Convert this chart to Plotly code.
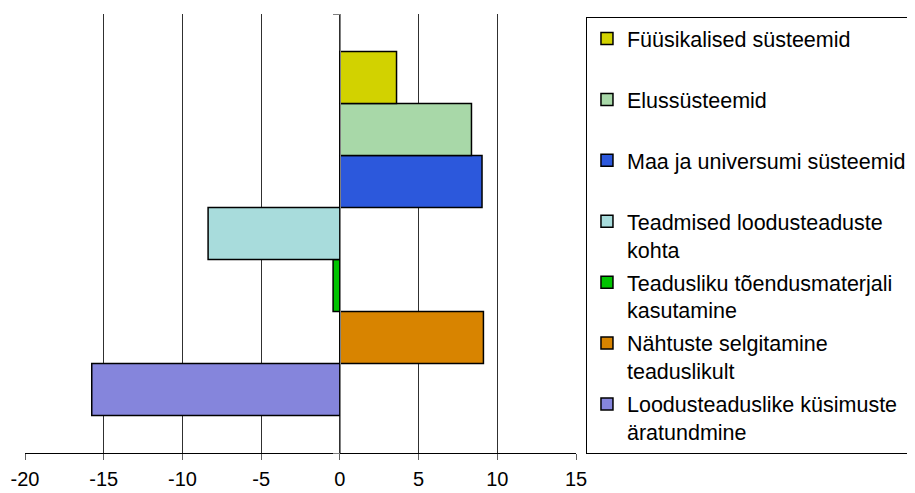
import plotly.graph_objects as go

# Series (legend order top -> bottom)
series_names = [
    "Füüsikalised süsteemid",
    "Elussüsteemid",
    "Maa ja universumi süsteemid",
    "Teadmised loodusteaduste<br>kohta",
    "Teadusliku tõendusmaterjali<br>kasutamine",
    "Nähtuste selgitamine<br>teaduslikult",
    "Loodusteaduslike küsimuste<br>äratundmine",
]
series_values = [3.6, 8.36, 9.03, -8.37, -0.43, 9.12, -15.76]
series_colors = ["#D2D200", "#A8D8A8", "#2C58DC", "#A8DCDC", "#00C400", "#D88400", "#8585DC"]
category = [""]
x_ticks = [-20, -15, -10, -5, 0, 5, 10, 15]

fig = go.Figure()
# plotly stacks horizontal grouped bars bottom-up, so add in reverse order
for i, (name, val, col) in reversed(list(enumerate(zip(series_names, series_values, series_colors)))):
    label = name if "<br>" in name else name + "<br>&nbsp;"
    fig.add_trace(go.Bar(
        y=category, x=[val], orientation="h", name=label,
        legendgroup=f"g{i}", legendrank=i + 1,
        marker=dict(color=col, line=dict(color="#000000", width=1.5)),
    ))

fig.update_layout(
    width=907, height=485,
    barmode="group", bargap=0.171, bargroupgap=0,
    plot_bgcolor="white", paper_bgcolor="white",
    margin=dict(l=17, r=339, t=6, b=40, autoexpand=False),
    font=dict(family="Liberation Sans, Arial, sans-serif", size=20, color="#000000"),
    showlegend=True,
    legend=dict(
        traceorder="grouped",
        x=1.0181, xanchor="left", y=0.993, yanchor="top",
        bordercolor="#000000", borderwidth=1, bgcolor="white",
        font=dict(size=21.5), valign="top", tracegroupgap=2,
    ),
    xaxis=dict(
        range=[-20, 15], tickvals=x_ticks, ticktext=[str(v) for v in x_ticks],
        showgrid=True, gridcolor="#303030", gridwidth=1,
        zeroline=False, showline=True, linecolor="#000000", linewidth=1,
        ticks="outside", ticklen=6, tickcolor="#606060",
        tickfont=dict(size=20), ticklabelstandoff=2,
    ),
    yaxis=dict(
        type="category", showticklabels=False, showgrid=False, zeroline=False,
        anchor="free", position=20 / 35, showline=True, linecolor="#808080", linewidth=1,
        ticks="outside", ticklen=7, tickcolor="#808080", tickson="boundaries",
    ),
)

fig.write_html("out.html")
